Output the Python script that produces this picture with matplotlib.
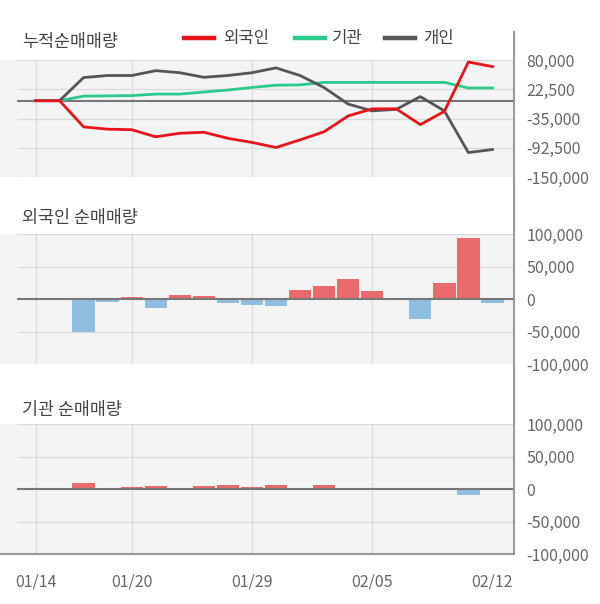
import matplotlib
matplotlib.use("Agg")
import matplotlib.pyplot as plt
from matplotlib.lines import Line2D
import numpy as np

plt.rcParams['font.family'] = ['Noto Sans CJK KR', 'DejaVu Sans']

# ---- data ----
dates = ["01/14", "01/15", "01/16", "01/17", "01/20", "01/21", "01/22", "01/23",
         "01/28", "01/29", "01/30", "01/31", "02/03", "02/04", "02/05", "02/06",
         "02/07", "02/10", "02/11", "02/12"]
tick_dates = ["01/14", "01/20", "01/29", "02/05", "02/12"]

# cumulative net buying (top panel)
cum_foreign = [0, 0, -51500, -56000, -57000, -71000, -64000, -62000, -74000, -82000,
               -92000, -77000, -61000, -30000, -16000, -16000, -47000, -21000, 76000, 67000]
cum_inst = [0, 0, 9000, 9500, 10000, 13000, 13000, 17000, 21000, 26000,
            30500, 31000, 36000, 36000, 36000, 36000, 36000, 36000, 25000, 25000]
cum_indiv = [0, 0, 45500, 49500, 49500, 59000, 55000, 46000, 49500, 55000,
             64500, 49500, 25800, -6600, -20000, -17000, 8000, -20000, -102000, -96000]

# daily net buying
foreign_daily = [0, 0, -51500, -4500, 2800, -14300, 5600, 4000, -6000, -9800,
                 -11000, 13300, 20500, 31000, 13000, 0, -31000, 25000, 94500, -6500]
inst_daily = [0, 0, 8700, 0, 2600, 4000, 0, 4000, 5600, 2600,
              5600, 0, 5600, 0, 0, 0, 0, 0, -9500, 0]

top_ticks = [80000, 22500, -35000, -92500, -150000]
bar_ticks = [100000, 50000, 0, -50000, -100000]

# ---- style ----
W, H = 600, 604
RED_LINE = '#e8141c'
GREEN_LINE = '#2bc98c'
GRAY_LINE = '#555555'
BAR_RED = '#eb6a6e'
BAR_BLUE = '#8fbde0'
BG = '#f4f4f4'
GRID = '#dadada'
ZERO = '#777777'
TXT = '#666666'
TITLE = '#444444'

fig = plt.figure(figsize=(W / 100, H / 100), dpi=100)

def fx(px):
    return px / W

def fy(py):
    return 1 - py / H

x_left_px, x_right_px = 0, 514
idx0_px, slot_px = 35.5, 24.05
xlim = ((x_left_px - idx0_px) / slot_px, (x_right_px - idx0_px) / slot_px)
grid_start = (17 - idx0_px) / slot_px
vgrid_idx = [dates.index(d) for d in tick_dates[:-1]]
x = np.arange(len(dates))

def make_ax(top_px, bot_px, ylim, yticks):
    ax = fig.add_axes([fx(x_left_px), fy(bot_px), fx(x_right_px - x_left_px),
                       (bot_px - top_px) / H])
    ax.set_facecolor(BG)
    ax.set_xlim(*xlim)
    ax.set_ylim(*ylim)
    for s in ax.spines.values():
        s.set_visible(False)
    ax.yaxis.tick_right()
    ax.set_yticks(yticks)
    ax.set_yticklabels([f"{v:,}" for v in yticks])
    ax.tick_params(axis='y', length=0, pad=9, labelsize=11.5, labelcolor=TXT)
    ax.set_xticks([])
    for v in yticks:
        if v != 0:
            ax.hlines(v, grid_start, xlim[1], color=GRID, lw=0.9, zorder=1)
    for i in vgrid_idx:
        ax.axvline(i, color=GRID, lw=0.9, zorder=1)
    ax.hlines(0, grid_start, xlim[1], color=ZERO, lw=1.5, zorder=4)
    return ax

# top panel
ax1 = make_ax(60, 177, (-150000, 80000), top_ticks)
ax1.plot(x, cum_inst, color=GREEN_LINE, lw=2.0, zorder=5)
ax1.plot(x, cum_indiv, color=GRAY_LINE, lw=2.0, zorder=5)
ax1.plot(x, cum_foreign, color=RED_LINE, lw=2.0, zorder=6)

# middle panel
ax2 = make_ax(234, 364, (-100000, 100000), bar_ticks)
ax2.bar(x, foreign_daily, width=0.93,
        color=[BAR_RED if v > 0 else BAR_BLUE for v in foreign_daily], zorder=3)

# bottom panel
ax3 = make_ax(424, 554, (-100000, 100000), bar_ticks)
ax3.bar(x, inst_daily, width=0.93,
        color=[BAR_RED if v > 0 else BAR_BLUE for v in inst_daily], zorder=3)
ax3.spines['bottom'].set_visible(True)
ax3.spines['bottom'].set_color('#999999')
ax3.spines['bottom'].set_linewidth(1.5)
ax3.set_xticks([dates.index(d) for d in tick_dates])
ax3.set_xticklabels(tick_dates)
ax3.tick_params(axis='x', length=0, pad=14, labelsize=11.5, labelcolor=TXT)

# right vertical line
fig.add_artist(Line2D([fx(514), fx(514)], [fy(32), fy(554)], color='#999999', lw=1.5,
                      transform=fig.transFigure))

# titles
fig.text(fx(22), fy(42), "누적순매매량", fontsize=12.5, color=TITLE, va='center', ha='left')
fig.text(fx(22), fy(218), "외국인 순매매량", fontsize=12.5, color=TITLE, va='center', ha='left')
fig.text(fx(22), fy(410), "기관 순매매량", fontsize=12.5, color=TITLE, va='center', ha='left')

# legend
legend_items = [("외국인", RED_LINE, 184, 223), ("기관", GREEN_LINE, 295, 332), ("개인", GRAY_LINE, 385, 423)]
for label, col, lx, tx in legend_items:
    fig.add_artist(Line2D([fx(lx), fx(lx + 30)], [fy(38), fy(38)], color=col, lw=3.2,
                          transform=fig.transFigure))
    fig.text(fx(tx), fy(38), label, fontsize=12, color=TITLE, va='center', ha='left')

fig.savefig("out.png", dpi=100, facecolor='white')
